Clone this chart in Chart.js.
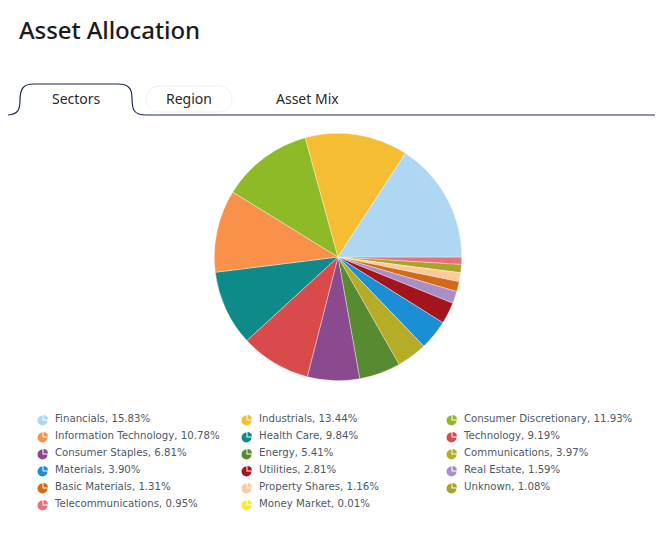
<!DOCTYPE html>
<html>
<head>
<meta charset="utf-8">
<script src="https://cdn.jsdelivr.net/npm/chart.js@4.4.0/dist/chart.umd.min.js"></script>
<style>
  body { margin: 0; background: #fff; width: 666px; height: 535px; position: relative; overflow: hidden; font-family: "Lato", sans-serif; }
  h1 { position: absolute; left: 19px; top: 13px; margin: 0; font: 500 24px "Noto Sans", sans-serif; color: #1c1c1c; letter-spacing: -0.1px; }
  #tabs { position: absolute; left: 0; top: 80px; }
  .tab { position: absolute; top: 89px; font: 14px "Noto Sans", sans-serif; color: #2a2a2a; }
  #chartBox { position: absolute; left: 214px; top: 133px; width: 248px; height: 248px; }
  #legend { position: absolute; left: 37px; top: 413px; width: 620px; }
  .item { position: absolute; font: 10.2px "DejaVu Sans", sans-serif; color: #4d5866; white-space: nowrap; }
  .item svg { position: absolute; left: 0; top: 1px; }
  .item span { position: absolute; left: 18px; top: 0; }
</style>
</head>
<body>
<h1>Asset Allocation</h1>
<svg id="tabs" width="666" height="40">
  <rect x="146" y="6" width="86" height="26" rx="13" fill="none" stroke="#f2f2f2" stroke-width="1"/>
  <path d="M8 35 C 18 34, 20 30, 20 20 C 20 8, 24 4, 34 4 L 118 4 C 128 4, 132 8, 132 18 C 132 30, 134 35, 146 35 L 655 35" fill="none" stroke="#1f2d4d" stroke-width="1.2"/>
</svg>
<div class="tab" style="left:52px">Sectors</div>
<div class="tab" style="left:166px">Region</div>
<div class="tab" style="left:276px">Asset Mix</div>
<div id="chartBox"><canvas id="pie"></canvas></div>
<div id="legend"></div>
<script>
// Sector weights (%)
const sectors = ["Financials", "Industrials", "Consumer Discretionary", "Information Technology", "Health Care", "Technology",
  "Consumer Staples", "Energy", "Communications", "Materials", "Utilities", "Real Estate",
  "Basic Materials", "Property Shares", "Unknown", "Telecommunications", "Money Market"];
const weights = [15.83, 13.44, 11.93, 10.78, 9.84, 9.19, 6.81, 5.41, 3.97, 3.90, 2.81, 1.59, 1.31, 1.16, 1.08, 0.95, 0.01];
const colors = ["#aed7f3", "#f5bd31", "#8dba26", "#fa914b", "#0e8a89", "#d84b4a", "#8b4a8e", "#588a31", "#b4ad25", "#1b8fd6",
  "#a3141c", "#a98ec7", "#d5691a", "#fbcb9c", "#a8a526", "#ec6f7c", "#f9e83a"];

// pie is drawn counterclockwise from 3 o'clock, so feed it reversed
const rev = (a) => a.slice().reverse();

new Chart(document.getElementById("pie"), {
  type: "pie",
  data: {
    labels: rev(sectors),
    datasets: [{
      data: rev(weights),
      backgroundColor: rev(colors),
      borderColor: "rgba(255,255,255,0.6)",
      borderWidth: 0.6,
    }],
  },
  options: {
    responsive: true,
    maintainAspectRatio: false,
    animation: false,
    rotation: 90,
    layout: { padding: 0 },
    plugins: { legend: { display: false }, tooltip: { enabled: false } },
  },
});

// legend, 3 columns row by row
const legend = document.getElementById("legend");
const colX = [0, 204, 409];
sectors.forEach((name, i) => {
  const div = document.createElement("div");
  div.className = "item";
  div.style.left = colX[i % 3] + "px";
  div.style.top = Math.floor(i / 3) * 17 + "px";
  div.innerHTML =
    '<svg width="12" height="12" viewBox="0 0 12 12">' +
    '<path d="M5.5 6.5 L5.5 1.5 A5 5 0 1 0 10.5 6.5 Z" fill="' + colors[i] + '"/>' +
    '<path d="M6.5 5.5 L6.5 1 A4.5 4.5 0 0 1 11 5.5 Z" fill="' + colors[i] + '"/>' +
    "</svg><span>" + name + ", " + weights[i].toFixed(2) + "%</span>";
  legend.appendChild(div);
});
</script>
</body>
</html>
